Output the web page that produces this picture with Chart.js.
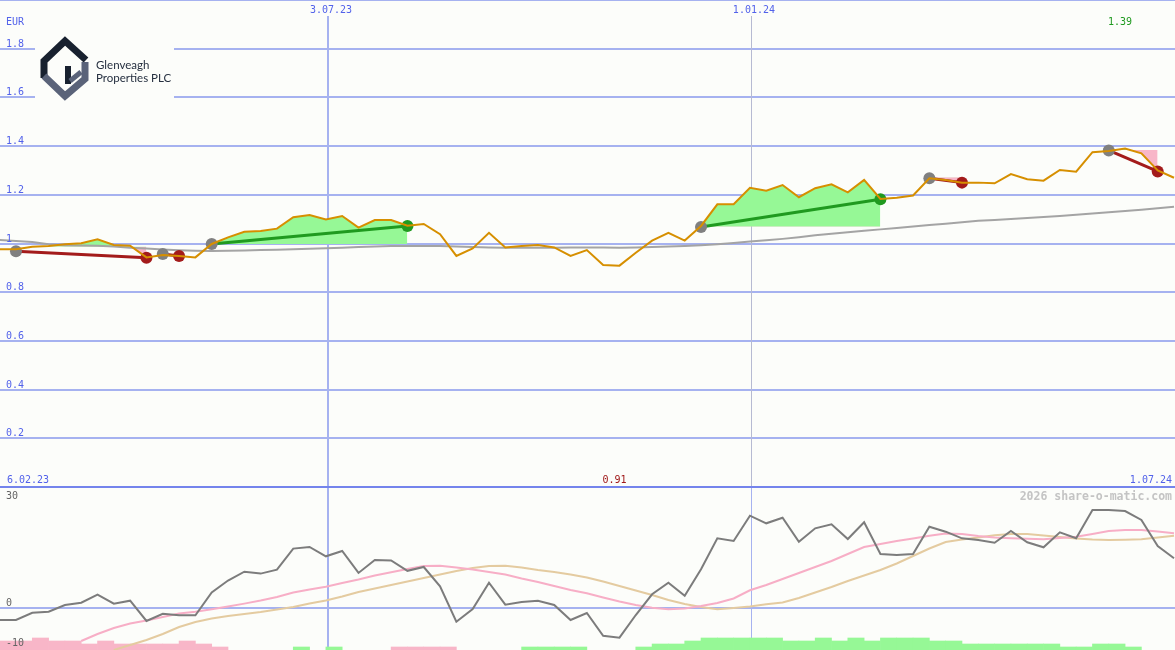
<!DOCTYPE html>
<html>
<head>
<meta charset="utf-8">
<script src="https://cdn.jsdelivr.net/npm/chart.js@4.4.1/dist/chart.umd.min.js"></script>
<style>
  html, body { margin: 0; padding: 0; background: #fcfdfa; overflow: hidden; }
  #wrap { position: relative; width: 1175px; height: 650px; }
  #priceChart { position: absolute; left: 0; top: 0; }
  #indicatorChart { position: absolute; left: 0; top: 487px; }
</style>
</head>
<body>
<div id="wrap">
  <canvas id="priceChart" width="1175" height="487"></canvas>
  <canvas id="indicatorChart" width="1175" height="163"></canvas>
</div>
<script>
// weekly closes, week 0 = 13.02.23
const price = [0.976,0.976,0.987,0.990,0.997,1.001,1.017,0.994,0.991,0.943,
  0.953,0.949,0.943,0.998,1.025,1.048,1.051,1.061,1.108,1.117,
  1.099,1.113,1.065,1.096,1.096,1.073,1.080,1.038,0.949,0.980,
  1.044,0.984,0.990,0.994,0.984,0.949,0.973,0.912,0.909,0.962,
  1.012,1.044,1.012,1.072,1.161,1.161,1.229,1.217,1.240,1.190,
  1.227,1.243,1.210,1.261,1.183,1.188,1.197,1.268,1.261,1.250,
  1.250,1.247,1.285,1.264,1.258,1.302,1.295,1.375,1.380,1.390,
  1.370,1.300,1.270];

// long moving average
const longAvg = [1.014,1.010,1.006,0.997,0.993,0.992,0.991,0.988,0.983,0.979,
  0.975,0.972,0.970,0.969,0.970,0.971,0.973,0.974,0.976,0.978,
  0.980,0.983,0.986,0.988,0.990,0.990,0.990,0.990,0.988,0.986,
  0.984,0.983,0.983,0.983,0.983,0.984,0.984,0.984,0.983,0.984,
  0.986,0.988,0.990,0.993,0.997,1.002,1.008,1.013,1.019,1.026,
  1.034,1.040,1.046,1.052,1.058,1.064,1.070,1.076,1.081,1.087,
  1.093,1.097,1.101,1.105,1.109,1.113,1.118,1.123,1.128,1.133,
  1.139,1.145,1.151];

// signals: [week, price]
const entrySignals = [[1,0.968],[10,0.957],[13,0.998],[43,1.068],[57,1.268],[68,1.382]];
const lossExits = [[9,0.941],[11,0.949],[59,1.250],[71,1.296]];
const gainExits = [[25,1.072],[54,1.182]];
// trades: [entry week, exit week, reference level]
const trades = [[1,9,0.987],[10,11,null],[13,25,0.998],[43,54,1.069],[57,59,1.272],[68,71,1.384]];

// lower panel
const momentum = [-2.98,-2.98,-1.17,-0.92,0.74,1.31,3.30,1.07,1.81,-3.22,
  -1.44,-1.79,-1.79,3.84,6.82,9.00,8.53,9.52,14.73,15.13,
  12.82,14.13,8.70,11.90,11.78,9.22,10.17,5.38,-3.40,-0.25,
  6.27,0.82,1.49,1.79,0.74,-2.98,-1.24,-6.87,-7.36,-1.74,
  3.40,6.27,3.05,9.60,17.28,16.61,22.89,21.00,22.39,16.44,
  19.76,20.75,17.11,21.25,13.39,13.14,13.39,20.16,18.92,17.28,
  16.86,16.19,19.09,16.29,15.05,18.77,17.28,24.30,24.30,24.05,
  21.82,15.37,12.32];
const fastAvg = [null,null,null,null,null,-8.18,-6.45,-4.96,-3.84,-3.10,
  -2.23,-1.36,-0.94,-0.30,0.37,1.09,1.86,2.73,3.84,4.59,
  5.28,6.20,7.07,8.06,8.85,9.67,10.41,10.49,10.04,9.55,
  8.93,8.31,7.31,6.45,5.46,4.46,3.64,2.60,1.61,0.74,
  0.05,-0.32,-0.12,0.50,1.24,2.36,4.39,5.70,7.19,8.68,
  10.17,11.65,13.39,15.13,15.87,16.61,17.23,17.93,18.47,18.35,
  17.85,17.48,17.28,17.16,17.03,17.36,17.68,18.35,19.09,19.34,
  19.34,18.97,18.52];
const slowAvg = [null,null,null,null,null,null,null,-10.4,-9.17,-7.93,
  -6.45,-4.71,-3.47,-2.60,-1.98,-1.49,-0.99,-0.37,0.25,1.12,
  1.86,2.85,3.97,4.84,5.70,6.57,7.44,8.31,9.17,9.92,
  10.41,10.49,10.04,9.42,8.93,8.31,7.56,6.57,5.46,4.34,
  3.22,1.98,0.99,0.25,-0.32,0.00,0.37,0.92,1.36,2.48,
  3.84,5.21,6.69,8.06,9.42,11.03,12.89,14.75,16.36,16.98,
  17.48,18.03,18.35,18.35,17.98,17.60,17.23,16.98,16.86,16.91,
  17.03,17.48,17.93];
// weekly histogram levels (negative = pink, positive = green)
const histogram = [-3,-3,-4,-3,-3,-2,-3,-2,-2,-2,
  -2,-3,-2,-1,0,0,0,0,1,0,
  1,0,0,0,-1,-1,-1,-1,0,0,
  0,0,1,1,1,1,0,0,0,1,
  2,2,3,4,4,4,4,4,3,3,
  4,3,4,3,4,4,4,3,3,2,
  2,2,2,2,2,1,1,2,2,1,
  0,0];

const priceTicks = [0.2,0.4,0.6,0.8,1,1.2,1.4,1.6,1.8];
const indicatorTicks = [30,0,-10];
const dateMarkWeeks = [20.13, 46.06];
const dateMarkLabels = ['3.07.23', '1.01.24'];
const rangeStart = '6.02.23';
const rangeEnd = '1.07.24';

const BG = '#fcfdfa';
const GRID = '#a6b2f0';
const BLUE_TEXT = '#5262ea';
const MONO = '"DejaVu Sans Mono", "Liberation Mono", monospace';
const X_MIN = 0.02, X_MAX = 72.06;

const series = arr => arr.map((v, i) => ({x: i, y: v})).filter(p => p.y !== null);
const slice = (arr, a, b) => arr.slice(a, b + 1).map((v, i) => ({x: a + i, y: v}));
const markers = list => list.map(s => ({x: s[0], y: s[1]}));
const findSignal = w => [...entrySignals, ...lossExits, ...gainExits].find(s => s[0] === w);

function drawLogo(ctx) {
  ctx.fillStyle = BG;
  ctx.fillRect(35, 38, 139, 63);
  const dark = '#18212f', slate = '#5a6379';
  ctx.lineWidth = 7;
  ctx.lineJoin = 'miter';
  ctx.lineCap = 'butt';
  ctx.strokeStyle = dark;
  ctx.beginPath();
  ctx.moveTo(86, 60); ctx.lineTo(65, 41); ctx.lineTo(44, 61); ctx.lineTo(44, 78);
  ctx.stroke();
  ctx.strokeStyle = slate;
  ctx.beginPath();
  ctx.moveTo(44, 76); ctx.lineTo(65, 96); ctx.lineTo(85, 79); ctx.lineTo(85, 62);
  ctx.stroke();
  ctx.strokeStyle = dark;
  ctx.lineWidth = 6;
  ctx.beginPath();
  ctx.moveTo(68, 66); ctx.lineTo(68, 84);
  ctx.stroke();
  ctx.strokeStyle = slate;
  ctx.lineWidth = 5;
  ctx.beginPath();
  ctx.moveTo(70, 81); ctx.lineTo(81, 72);
  ctx.stroke();
  ctx.fillStyle = '#263040';
  ctx.font = '11.5px Lato';
  ctx.textAlign = 'left';
  ctx.textBaseline = 'alphabetic';
  ctx.fillText('Glenveagh', 96, 69);
  ctx.fillText('Properties PLC', 96, 82);
}

const priceDecor = {
  id: 'priceDecor',
  beforeDraw(chart) {
    const {ctx, width, height} = chart;
    ctx.save();
    ctx.fillStyle = BG;
    ctx.fillRect(0, 0, width, height);
    ctx.restore();
  },
  beforeDatasetsDraw(chart) {
    const {ctx, width, height, scales: {x, y}} = chart;
    ctx.save();
    ctx.fillStyle = GRID;
    priceTicks.forEach(v => {
      const py = Math.round(y.getPixelForValue(v));
      ctx.fillRect(0, py - 1, width, 2);
    });
    ctx.fillRect(0, 0, width, 1);
    dateMarkWeeks.forEach((w, i) => {
      const px = Math.round(x.getPixelForValue(w));
      if (i === 0) { ctx.fillStyle = GRID; ctx.fillRect(px - 1, 16, 2, height - 16); }
      else { ctx.fillStyle = '#b6bad2'; ctx.fillRect(px, 16, 1, height - 16); }
    });
    ctx.fillStyle = '#7484ec';
    ctx.fillRect(0, height - 1, width, 1);
    drawLogo(ctx);
    ctx.restore();
  },
  afterDatasetsDraw(chart) {
    const {ctx, width, height, scales: {x, y}} = chart;
    ctx.save();
    ctx.font = '10px ' + MONO;
    ctx.textBaseline = 'alphabetic';
    ctx.fillStyle = BLUE_TEXT;
    ctx.textAlign = 'left';
    ctx.fillText('EUR', 6, 25);
    priceTicks.forEach(v => {
      ctx.fillText(String(v), 6, Math.round(y.getPixelForValue(v)) - 2);
    });
    ctx.textAlign = 'center';
    dateMarkWeeks.forEach((w, i) => {
      ctx.fillText(dateMarkLabels[i], x.getPixelForValue(w) + 3, 13);
    });
    ctx.textAlign = 'left';
    ctx.fillText(rangeStart, 7, 483);
    ctx.textAlign = 'right';
    ctx.fillText(rangeEnd, width - 3, 483);
    const hi = Math.max(...price), lo = Math.min(...price);
    ctx.textAlign = 'center';
    ctx.fillStyle = '#1f9a1f';
    ctx.fillText(hi.toFixed(2), x.getPixelForValue(price.indexOf(hi)) - 5, 25);
    ctx.fillStyle = '#a01818';
    ctx.fillText(lo.toFixed(2), x.getPixelForValue(price.indexOf(lo)) - 5, 483);
    ctx.restore();
  }
};

const indicatorDecor = {
  id: 'indicatorDecor',
  beforeDraw(chart) {
    const {ctx, width, height} = chart;
    ctx.save();
    ctx.fillStyle = BG;
    ctx.fillRect(0, 0, width, height);
    ctx.restore();
  },
  beforeDatasetsDraw(chart) {
    const {ctx, width, height, scales: {x, y}} = chart;
    ctx.save();
    ctx.fillStyle = GRID;
    dateMarkWeeks.forEach((w, i) => {
      const px = Math.round(x.getPixelForValue(w));
      if (i === 0) ctx.fillRect(px - 1, 0, 2, height);
      else ctx.fillRect(px, 0, 1, height);
    });
    const zy = Math.round(y.getPixelForValue(0));
    ctx.fillRect(0, zy - 1, width, 2);
    ctx.fillStyle = '#7484ec';
    ctx.fillRect(0, 0, width, 1);
    ctx.restore();
  },
  afterDatasetsDraw(chart) {
    const {ctx, width, scales: {y}} = chart;
    ctx.save();
    ctx.font = '10px ' + MONO;
    ctx.fillStyle = '#646464';
    ctx.textAlign = 'left';
    ctx.textBaseline = 'alphabetic';
    indicatorTicks.forEach(v => {
      const py = y.getPixelForValue(v);
      ctx.fillText(String(v), 6, v === 30 ? py + 12 : Math.round(py) - 2.5);
    });
    ctx.font = 'bold 11.5px ' + MONO;
    ctx.fillStyle = '#c4c4c4';
    ctx.textAlign = 'right';
    ctx.fillText('2026 share-o-matic.com', width - 3, 13);
    ctx.restore();
  }
};

// ---- upper panel datasets
const priceSets = [];
priceSets.push({
  data: series(price), borderColor: '#d68f00', borderWidth: 2,
  pointRadius: 0, tension: 0, fill: false, order: 0
});
[[entrySignals, '#808080'], [lossExits, '#a31b1b'], [gainExits, '#209a20']].forEach(([list, col]) => {
  priceSets.push({
    data: markers(list), showLine: false, pointRadius: 6, pointHoverRadius: 6,
    pointBackgroundColor: col, pointBorderWidth: 0, order: 1
  });
});
trades.forEach(([a, b, base]) => {
  const s = findSignal(a), e = findSignal(b);
  priceSets.push({
    data: [{x: s[0], y: s[1]}, {x: e[0], y: e[1]}],
    borderColor: e[1] > s[1] ? '#1f9a1f' : '#a31b1b', borderWidth: 3,
    pointRadius: 0, tension: 0, fill: false, order: 2
  });
  if (base !== null) {
    const from = a === 1 ? 2 : a;
    priceSets.push({
      data: slice(price, from, b), borderWidth: 0, pointRadius: 0, tension: 0,
      fill: {value: base, above: '#96f896', below: '#f8b6c8'}, order: 4
    });
  }
});
priceSets.push({
  data: series(longAvg), borderColor: '#a4a4a4', borderWidth: 2,
  pointRadius: 0, tension: 0, fill: false, order: 3
});

const common = {
  responsive: false,
  animation: false,
  events: [],
  layout: {padding: 0, autoPadding: false},
  plugins: {legend: {display: false}, tooltip: {enabled: false}}
};

new Chart(document.getElementById('priceChart'), {
  type: 'line',
  data: {datasets: priceSets},
  options: Object.assign({}, common, {
    scales: {
      x: {type: 'linear', min: X_MIN, max: X_MAX, offset: false, display: false},
      y: {min: 0, max: 2, display: false}
    }
  }),
  plugins: [priceDecor]
});

// ---- lower panel
const histData = histogram.map((v, i) => ({x: i + 0.5, y: Math.abs(v), s: v}))
  .filter(p => p.y !== 0);

new Chart(document.getElementById('indicatorChart'), {
  type: 'line',
  data: {
    datasets: [
      {data: series(momentum), borderColor: '#7c7c7c', borderWidth: 2, pointRadius: 0, tension: 0, order: 0},
      {data: series(fastAvg), borderColor: '#f7aec6', borderWidth: 2, pointRadius: 0, tension: 0, order: 1},
      {data: series(slowAvg), borderColor: '#e4cba0', borderWidth: 2, pointRadius: 0, tension: 0, order: 2},
      {
        type: 'bar', data: histData, yAxisID: 'yb', order: 3,
        backgroundColor: histData.map(p => p.s < 0 ? '#f8b6c8' : '#96f896'),
        borderWidth: 0, barPercentage: 1, categoryPercentage: 1
      }
    ]
  },
  options: Object.assign({}, common, {
    scales: {
      x: {type: 'linear', min: X_MIN, max: X_MAX, offset: false, display: false},
      y: {min: -10.41, max: 30, display: false},
      yb: {min: 0, max: 54.33, display: false}
    }
  }),
  plugins: [indicatorDecor]
});
</script>
</body>
</html>
